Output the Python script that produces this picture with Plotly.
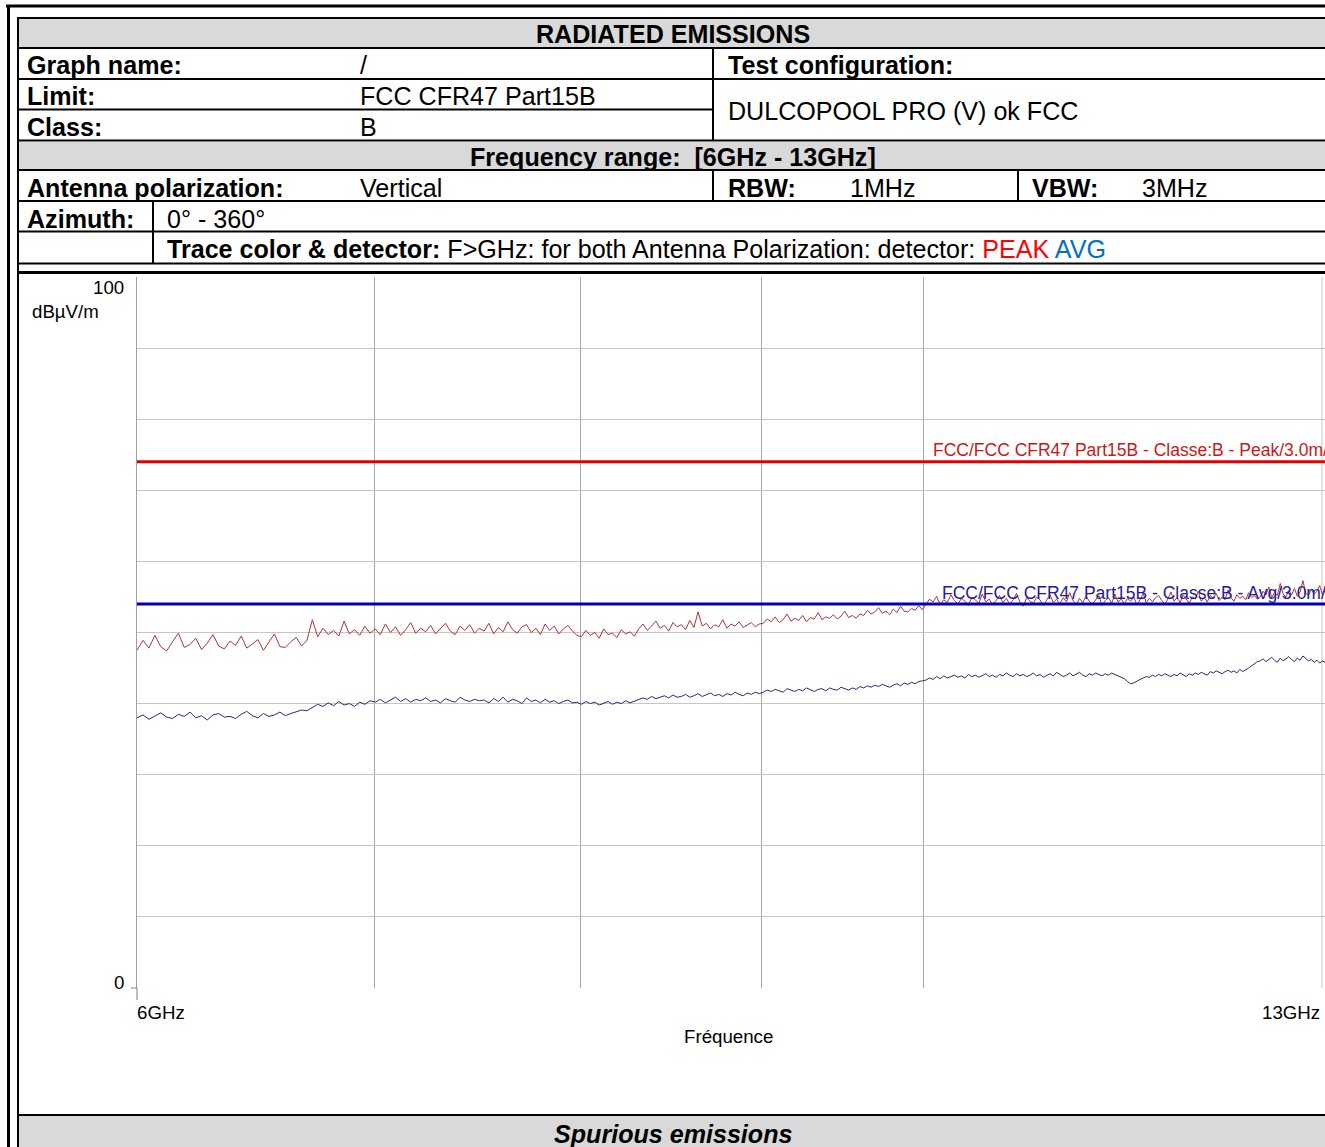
import numpy as np
import plotly.graph_objects as go

# ---------------- data ----------------
FREQ_START_GHZ = 6.0
FREQ_STOP_GHZ = 13.0

LIMIT_PEAK = 74.0   # dBµV/m  FCC Part15B Class B peak @3m
LIMIT_AVG = 54.0    # dBµV/m  FCC Part15B Class B avg  @3m

PEAK_DBUV = [
    47.5, 48.9, 47.8, 49.6, 48.0, 47.4, 48.7, 49.9, 47.9, 48.3,
    49.2, 47.6, 48.5, 49.7, 48.1, 47.7, 48.8, 48.2, 49.5, 47.8,
    48.4, 49.0, 47.5, 48.6, 49.8, 48.0, 47.9, 48.7, 49.3, 48.1,
    48.9,
    51.8, 49.4, 50.6, 49.7, 50.3, 49.5, 51.6, 49.8, 50.4, 49.6, 50.9, 49.9,
    50.5, 49.7, 51.2, 50.0, 50.8, 49.6, 50.4, 51.4, 49.9, 50.6, 50.1, 51.0, 49.8, 50.5, 51.3, 50.2,
    49.7, 50.9, 50.3, 51.1, 49.9, 50.6,
    50.2, 51.3, 49.8, 50.7, 50.1, 51.5, 50.4, 49.9, 50.8, 51.1, 50.0, 50.6, 49.7, 51.2, 50.3, 50.9,
    49.8, 50.5, 51.0, 50.2, 49.6,
    49.4, 50.3, 49.6, 50.0, 49.2, 50.5, 49.7, 49.9, 49.3, 50.4, 49.8, 50.1, 49.5,
    50.5, 51.2, 50.3, 50.9, 51.6, 50.6, 51.0, 50.2, 51.4, 50.8, 51.1, 50.4, 51.7, 50.7, 52.9, 50.9,
    51.3, 50.5, 51.1, 50.8, 51.8, 50.6, 51.2, 50.9, 51.5, 50.7, 51.0, 51.4, 50.8, 51.2,
    51.3, 51.9, 51.5, 52.2, 51.4, 51.8, 52.6, 51.6, 52.0, 51.7, 52.4, 51.5, 52.1, 51.9, 52.8, 51.8,
    52.2, 52.0, 52.5, 51.9, 52.3, 53.0, 52.1, 52.4, 52.0, 52.6,
    52.4, 53.1, 52.6, 52.9, 53.5, 52.7, 53.0, 52.5, 53.3, 52.8, 53.7, 53.0, 52.9, 53.4, 53.1, 53.8, 53.2,
    54.0, 54.7, 54.3, 55.1, 53.9, 54.6, 54.2, 55.3, 54.5, 54.0,
    54.8, 54.4, 53.8, 55.0, 54.6, 54.1, 55.4, 54.3, 54.7, 53.9,
    54.5, 55.2, 54.2, 54.8, 54.0, 54.6, 55.5, 54.3, 53.7, 54.9,
    54.4, 54.1, 55.0, 54.6, 53.8, 54.5, 55.3, 54.2, 54.7, 54.0,
    54.9, 54.3, 55.6, 54.5, 53.9, 54.8, 54.2, 55.1, 54.4, 54.0,
    54.6, 55.2, 53.8, 54.5, 54.9, 54.1, 55.4, 54.3, 54.7, 54.0,
    54.8, 54.4, 55.0, 53.9, 54.6, 55.5, 54.2, 54.8, 54.3, 54.9,
    55.2, 54.5, 54.0, 54.7, 55.7, 54.4, 54.9, 54.2, 55.3, 54.6,
    54.1, 55.0, 54.7, 55.8, 54.4, 54.9, 54.3, 55.2, 54.8, 55.5,
    54.5, 55.0, 54.6, 56.0, 54.9, 54.4, 55.3, 54.8, 55.1, 54.6,
    55.6, 54.9, 55.2, 54.7,
    55.0, 55.8, 55.3, 56.4, 54.9, 55.6, 55.2, 56.9, 55.4, 55.0,
    55.9, 55.3, 56.2, 55.1, 55.7, 57.3, 55.5, 55.2, 56.1, 55.4,
    55.8, 56.6, 55.3, 55.9, 55.5,
]

AVG_DBUV = [
    38.0, 38.4, 37.8, 38.3, 38.7, 38.1, 37.9, 38.5, 38.2, 38.8,
    38.0, 38.3, 37.7, 38.4, 38.6, 38.1, 38.2, 37.9, 38.5, 38.9,
    38.3, 38.0, 38.6, 38.2, 38.4, 38.8, 38.3, 38.6, 38.9, 39.1,
    39.0,
    39.4, 39.9, 39.6, 40.1, 39.7, 40.3, 39.8, 40.0, 39.6, 40.2, 39.9, 40.4,
    40.2, 40.6, 40.1, 40.5, 40.9, 40.3, 40.7, 40.2, 40.6, 40.4, 40.8, 40.3, 40.5, 40.1, 40.7, 40.4,
    40.2, 40.9, 40.5, 40.3, 40.6, 40.4,
    40.5, 40.1, 40.7, 40.3, 40.9, 40.2, 40.6, 40.4, 40.0, 40.8, 40.3, 40.5, 40.1, 40.6, 40.2, 40.4,
    40.0, 40.3, 40.5, 40.1, 40.2,
    39.9, 40.3, 40.0, 40.2, 39.8, 40.1, 40.3, 39.9, 40.2, 40.0, 40.4, 40.1, 40.3,
    40.5, 40.8, 40.6, 41.0, 40.7, 40.9, 41.1, 40.8, 41.2, 40.9, 41.0, 41.3, 40.9, 41.1, 41.4, 41.0,
    41.2, 41.5, 41.1, 41.3, 41.0, 41.4, 41.2, 41.6, 41.3, 41.1, 41.5, 41.3, 41.6, 41.4,
    41.6, 41.9, 41.7, 42.0, 41.8, 41.6, 42.1, 41.9, 41.7, 42.0, 41.8, 42.2, 41.9, 41.7, 42.0, 42.1,
    41.8, 42.2, 42.0, 41.9, 42.3, 42.1, 41.9, 42.2, 42.0, 42.4,
    42.2, 42.5, 42.3, 42.6, 42.4, 42.7, 42.5, 42.3, 42.6, 42.8, 42.5, 42.9, 42.7, 43.0, 42.8, 43.1, 43.2,
    43.3, 43.6, 43.4, 43.8, 43.5, 43.9, 43.6, 43.8, 44.0, 43.7,
    43.9, 43.6, 44.1, 43.8, 44.0, 43.7, 43.9, 44.2, 43.8, 44.0,
    43.7, 44.1, 43.9, 44.3, 44.0, 43.8, 44.2, 43.9, 44.1, 43.8,
    44.0, 44.3, 43.9, 44.1, 43.7, 44.0, 44.2, 43.9, 44.4, 44.1,
    43.8, 44.0, 44.3, 43.9, 44.1, 44.4, 44.0, 43.8, 44.2, 44.0,
    44.3, 44.1, 43.9, 44.2, 44.0, 44.3, 44.1, 43.9, 43.7, 43.5,
    43.1, 42.8, 42.9, 43.2, 43.4, 43.6, 43.8, 43.7, 44.0, 43.8,
    44.1, 43.9, 44.2, 44.0, 43.8, 44.1, 43.9, 44.3, 44.0, 43.8,
    44.2, 44.0, 44.3, 44.1, 44.4, 44.2, 44.0, 44.5, 44.3, 44.6,
    44.4, 44.2, 44.5, 44.7, 44.4, 44.6, 44.3, 44.8, 44.5, 44.7,
    45.0, 45.3, 45.6, 45.9,
    46.0, 46.3, 45.9, 46.2, 46.5, 46.1, 45.8, 46.4, 46.0, 46.3,
    46.6, 46.2, 45.9, 46.4, 46.1, 46.7, 46.3, 46.0, 46.2, 45.8,
    46.1, 45.7, 46.0, 45.8, 45.6,
]

X_GRID_GHZ = [7, 8, 9, 10]
Y_GRID = [0, 10, 20, 30, 40, 50, 60, 70, 80, 90]
X_TICK_LABELS = ["6GHz", "13GHz"]
Y_TICK_LABELS = ["0", "100"]

# sweep points of the analyser (linear frequency sweep)
freq = np.linspace(FREQ_START_GHZ, FREQ_STOP_GHZ, len(PEAK_DBUV))

# ---------------- page geometry (pixels) ----------------
FIG_W, FIG_H = 1331, 1147          # page shows the left 1325 px
L, R, T, B = 137, 1328, 277, 988   # plot area in page pixels


def px(x):
    return (x - L) / (R - L)


def py(y):
    return (B - y) / (B - T)


FONT = "Arial, Liberation Sans, sans-serif"
TS = 25.1   # table font size
AS = 18.7   # axis font size

fig = go.Figure()

fig.add_trace(go.Scatter(x=freq, y=PEAK_DBUV, mode="lines",
                         line=dict(color="#b03434", width=1), name="PEAK"))
fig.add_trace(go.Scatter(x=freq, y=AVG_DBUV, mode="lines",
                         line=dict(color="#2a2a72", width=1), name="AVG"))
fig.add_trace(go.Scatter(x=[FREQ_START_GHZ, FREQ_STOP_GHZ], y=[LIMIT_PEAK, LIMIT_PEAK],
                         mode="lines", line=dict(color="#e00000", width=3), name="Peak limit"))
fig.add_trace(go.Scatter(x=[FREQ_START_GHZ, FREQ_STOP_GHZ], y=[LIMIT_AVG, LIMIT_AVG],
                         mode="lines", line=dict(color="#0000b8", width=3), name="Avg limit"))

shapes = []
# gray fills
for (y0, y1) in [(19, 47), (142, 169), (1116, 1150)]:
    shapes.append(dict(type="rect", xref="paper", yref="paper",
                       x0=px(19), x1=px(1340), y0=py(y1), y1=py(y0),
                       fillcolor="#d9d9d9", line=dict(width=0), layer="below"))
# horizontal rules (y, x0, x1, width)
hlines = [(6, 6, 1340, 3), (18, 17, 1340, 2), (48, 17, 1340, 2), (79, 17, 1340, 2),
          (109.5, 17, 713, 2), (140.5, 17, 1340, 2), (170, 17, 1340, 2), (201, 17, 1340, 2),
          (231.5, 17, 1340, 2), (263.5, 17, 1340, 2), (272.5, 17, 1340, 3), (1115, 17, 1340, 2)]
for (y, a, b, w) in hlines:
    shapes.append(dict(type="line", xref="paper", yref="paper",
                       x0=px(a), x1=px(b), y0=py(y), y1=py(y),
                       line=dict(color="black", width=w)))
# vertical rules (x, y0, y1, width)
vlines = [(8.5, 5, 1150, 3), (18, 17, 1150, 2), (713, 48, 140.5, 2), (713, 170, 201, 2),
          (1018, 170, 201, 2), (153, 201, 263.5, 2)]
for (x, a, b, w) in vlines:
    shapes.append(dict(type="line", xref="paper", yref="paper",
                       x0=px(x), x1=px(x), y0=py(a), y1=py(b),
                       line=dict(color="black", width=w)))
# small axis ticks at origin and right frame line
shapes.append(dict(type="line", xref="paper", yref="paper", x0=px(137), x1=px(137),
                   y0=py(988), y1=py(1000), line=dict(color="#808080", width=1)))
shapes.append(dict(type="line", xref="paper", yref="paper", x0=px(131), x1=px(137),
                   y0=py(988), y1=py(988), line=dict(color="#808080", width=1)))
shapes.append(dict(type="line", xref="paper", yref="paper", x0=px(1322), x1=px(1322),
                   y0=py(277), y1=py(988), line=dict(color="#c8c8c8", width=1), layer="below"))

ann = []


def text(s, x, y, anchor="left", size=TS, color="black"):
    ann.append(dict(text=s, xref="paper", yref="paper", x=px(x), y=py(y),
                    xanchor=anchor, yanchor="middle", showarrow=False, borderpad=0,
                    font=dict(family=FONT, size=size, color=color)))


text("<b>RADIATED EMISSIONS</b>", 673, 34, "center")
text("<b>Graph name:</b>", 26, 65)
text("/", 359, 65)
text("<b>Test configuration:</b>", 727, 65)
text("<b>Limit:</b>", 26, 96)
text("FCC CFR47 Part15B", 359, 96)
text("<b>Class:</b>", 26, 127)
text("B", 359, 127)
text("DULCOPOOL PRO (V) ok FCC", 727, 111)
text("<b>Frequency range:&nbsp; [6GHz - 13GHz]</b>", 673, 157, "center")
text("<b>Antenna polarization:</b>", 26, 188)
text("Vertical", 359, 188)
text("<b>RBW:</b>", 727, 188)
text("1MHz", 849, 188)
text("<b>VBW:</b>", 1031, 188)
text("3MHz", 1141, 188)
text("<b>Azimuth:</b>", 26, 219)
text("0° - 360°", 166, 219)
text("<b>Trace color &amp; detector:</b> F&gt;GHz: for both Antenna Polarization: detector: "
     "<span style='color:#ff0000'>PEAK</span> <span style='color:#0070c0'>AVG</span>", 166, 249)
text("<b><i>Spurious emissions</i></b>", 673, 1134, "center")

# axis texts
text(Y_TICK_LABELS[1], 125, 287, "right", AS)
text("dBµV/m", 31, 311, "left", AS)
text(Y_TICK_LABELS[0], 125, 982, "right", AS)
text(X_TICK_LABELS[0], 136, 1012, "left", AS)
text(X_TICK_LABELS[1], 1321, 1012, "right", AS)
text("Fréquence", 728, 1036, "center", AS)

# limit labels
ann.append(dict(text="FCC/FCC CFR47 Part15B - Classe:B - Peak/3.0m/", xref="paper", yref="y",
                x=px(932), y=LIMIT_PEAK + 1.6, xanchor="left", yanchor="middle",
                showarrow=False, borderpad=0, font=dict(family=FONT, size=17.5, color="#c41a1a")))
ann.append(dict(text="FCC/FCC CFR47 Part15B - Classe:B - Avg/3.0m/", xref="paper", yref="y",
                x=px(941), y=LIMIT_AVG + 1.6, xanchor="left", yanchor="middle",
                showarrow=False, borderpad=0, font=dict(family=FONT, size=17.5, color="#1c1c9c")))

fig.update_layout(
    width=FIG_W, height=FIG_H,
    margin=dict(l=L, r=FIG_W - R, t=T, b=FIG_H - B, pad=0),
    paper_bgcolor="white", plot_bgcolor="white",
    showlegend=False,
    shapes=shapes, annotations=ann,
    font=dict(family=FONT),
    xaxis=dict(type="log", range=[np.log10(FREQ_START_GHZ), np.log10(FREQ_STOP_GHZ)],
               tickvals=X_GRID_GHZ, showticklabels=False, ticks="",
               showgrid=True, gridcolor="#a9a9a9", gridwidth=1, zeroline=False,
               showline=False),
    yaxis=dict(range=[0, 100], tickvals=Y_GRID, showticklabels=False, ticks="",
               showgrid=True, gridcolor="#c6c6c6", gridwidth=1, zeroline=False,
               showline=True, linecolor="#a0a0a0", linewidth=1, mirror=True),
)

fig.write_html("out.html", config={"displayModeBar": False},
               post_script="document.body.style.margin='0';document.body.style.overflow='hidden';")
